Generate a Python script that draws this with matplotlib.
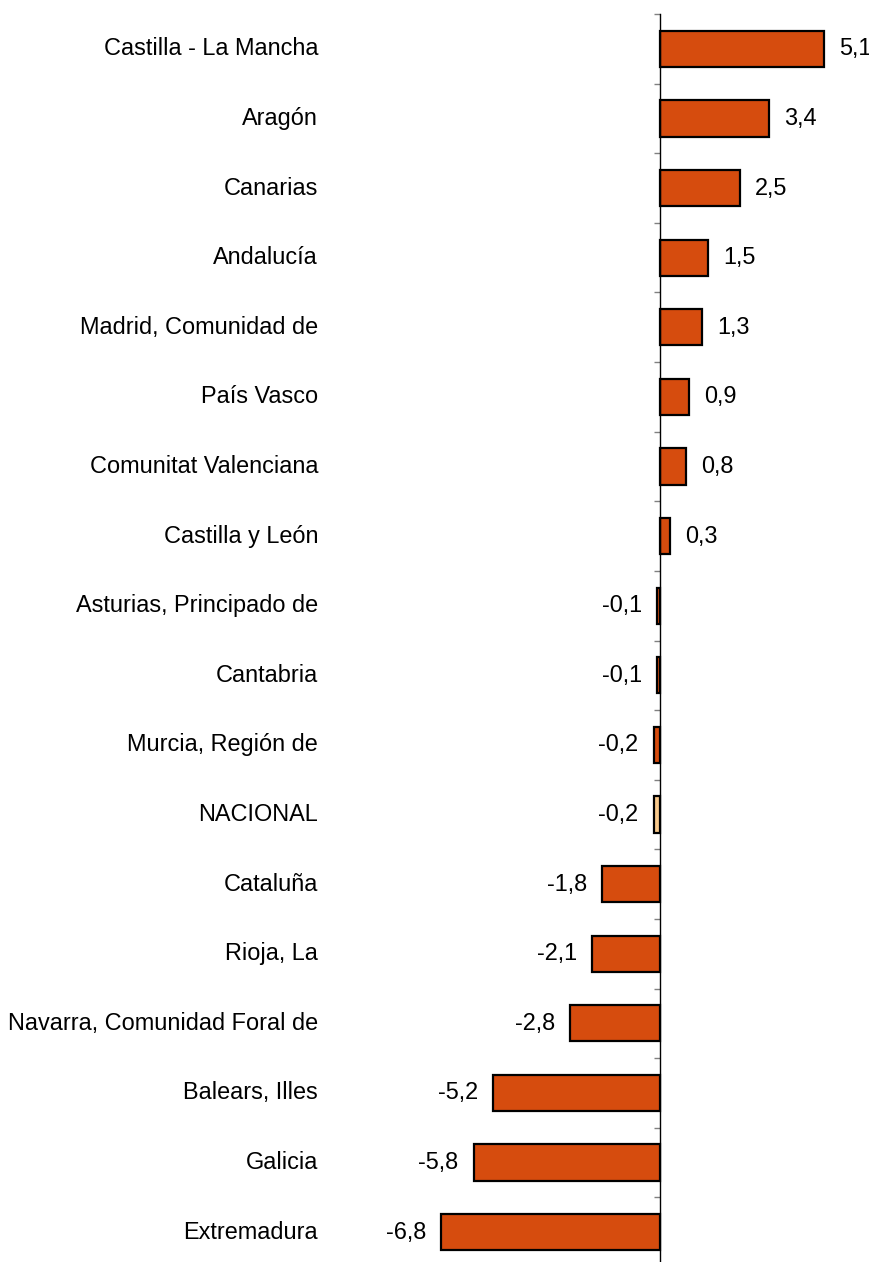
import matplotlib.pyplot as plt
import numpy as np

plt.rcParams['font.family'] = ['Liberation Sans', 'DejaVu Sans']

regions = ["Castilla - La Mancha", "Aragón", "Canarias", "Andalucía",
           "Madrid, Comunidad de", "País Vasco", "Comunitat Valenciana",
           "Castilla y León", "Asturias, Principado de", "Cantabria",
           "Murcia, Región de", "NACIONAL", "Cataluña", "Rioja, La",
           "Navarra, Comunidad Foral de", "Balears, Illes", "Galicia",
           "Extremadura"]
values = [5.1, 3.4, 2.5, 1.5, 1.3, 0.9, 0.8, 0.3, -0.1, -0.1, -0.2, -0.2,
          -1.8, -2.1, -2.8, -5.2, -5.8, -6.8]

W, H, DPI = 870, 1262, 100
px_per_unit = 32.15
zero_px = 660

fig = plt.figure(figsize=(W / DPI, H / DPI), dpi=DPI)
n = len(regions)
# axes spans the full width; vertical extent from y=14px to just below the figure
ax = fig.add_axes([0, -5 / H, 1, (H - 14 + 5) / H])
ax.set_xlim(-zero_px / px_per_unit, (W - zero_px) / px_per_unit)
ax.set_ylim(n - 0.5, -0.5)

y = np.arange(n)
colors = ['#F8C98C' if r == "NACIONAL" else '#D64C0E' for r in regions]
ax.barh(y, values, height=0.52, color=colors, edgecolor='black', linewidth=1.6)

for spine in ['top', 'right', 'bottom']:
    ax.spines[spine].set_visible(False)
ax.spines['left'].set_position(('data', 0))
ax.spines['left'].set_linewidth(1.0)
ax.set_xticks([])
ax.set_yticks(np.arange(n + 1) - 0.5)
ax.set_yticklabels([])
ax.tick_params(axis='y', length=4.5, width=1, color='#808080', direction='out')

label_x = (318 - zero_px) / px_per_unit
off = 15 / px_per_unit
fs = 16.9
for yi, r, v in zip(y, regions, values):
    ax.text(label_x, yi, r, ha='right', va='center', fontsize=fs)
    txt = f"{v:.1f}".replace('.', ',')
    if v >= 0:
        ax.text(v + off, yi, txt, ha='left', va='center', fontsize=fs)
    else:
        ax.text(v - off, yi, txt, ha='right', va='center', fontsize=fs)

fig.savefig('out.png', dpi=DPI)
